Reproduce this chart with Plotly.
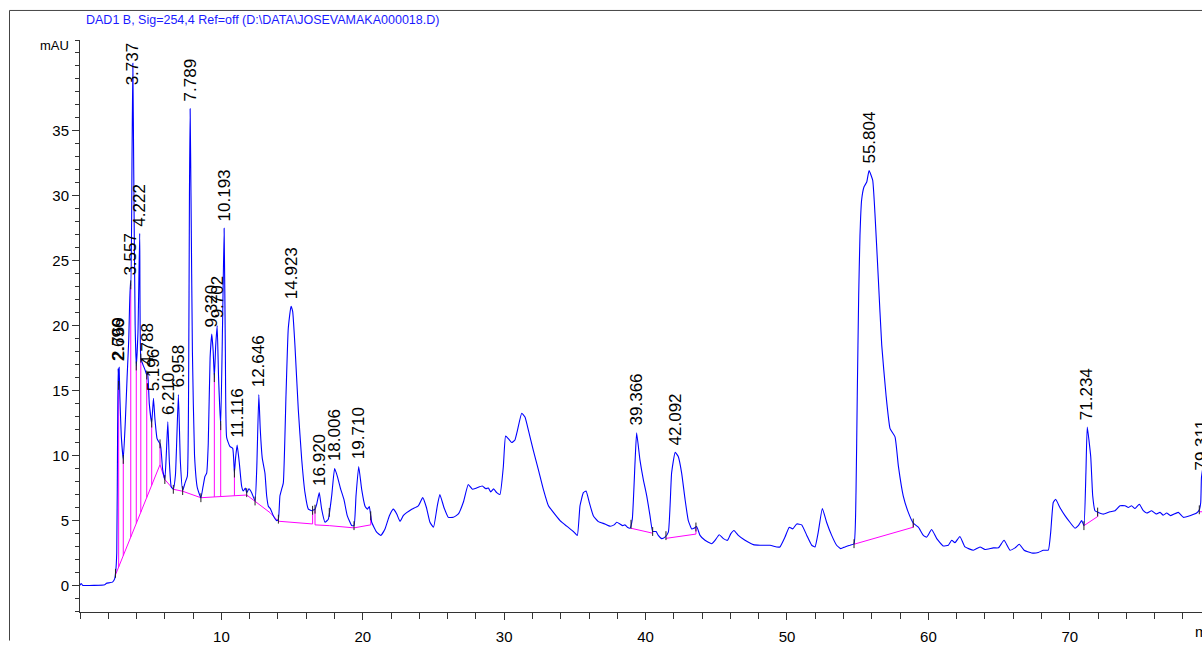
import numpy as np
import plotly.graph_objects as go

# ---------------- data (retention time in min, signal in mAU) ----------------
signal_points = [
    (0.0, 0.0), (0.08, 0.15), (0.2, 0.0), (1.0, 0.0), (1.75, 0.05), (1.85, 0.15), (2.3, 0.25),
    (2.45, 0.5), (2.52, 1.0), (2.6, 2.5), (2.66, 12.0), (2.696, 16.7), (2.735, 15.4), (2.769, 16.8),
    (2.82, 14.5), (2.92, 11.5), (3.06, 9.7), (3.2, 12.5), (3.33, 16.0), (3.45, 19.0), (3.557, 23.3),
    (3.6, 23.1), (3.68, 33.0), (3.737, 40.2), (3.8, 32.0), (3.9, 20.0), (3.98, 16.9), (4.1, 19.5),
    (4.222, 27.1), (4.3, 17.5), (4.45, 17.0), (4.6, 16.6), (4.72, 16.2), (4.788, 16.4), (4.9, 14.0),
    (5.07, 12.5), (5.196, 14.4), (5.3, 12.8), (5.45, 11.3), (5.6, 11.0), (5.66, 10.9), (5.72, 10.6),
    (5.85, 8.9), (6.0, 8.15), (6.1, 10.0), (6.21, 12.6), (6.32, 9.5), (6.45, 7.6), (6.6, 7.4),
    (6.75, 8.5), (6.958, 14.7), (7.1, 9.5), (7.26, 7.3), (7.43, 7.9), (7.59, 8.4), (7.68, 15.0),
    (7.74, 30.0), (7.789, 36.7), (7.85, 30.0), (7.95, 18.0), (8.1, 10.0), (8.3, 7.5), (8.55, 6.75),
    (8.7, 7.6), (8.84, 8.4), (8.96, 8.65), (9.07, 10.9), (9.2, 17.5), (9.32, 19.35), (9.42, 18.0),
    (9.5, 16.0), (9.6, 18.5), (9.702, 20.0), (9.8, 16.0), (9.95, 12.3), (10.08, 20.0), (10.193, 27.5),
    (10.28, 18.0), (10.37, 11.4), (10.6, 10.7), (10.8, 10.55), (10.92, 8.65), (11.0, 9.8),
    (11.116, 10.8), (11.27, 9.4), (11.43, 7.65), (11.55, 7.27), (11.69, 7.5), (11.79, 7.14),
    (11.95, 7.44), (12.14, 7.14), (12.38, 6.5), (12.5, 9.0), (12.646, 14.7), (12.75, 12.0),
    (12.89, 9.8), (13.08, 8.65), (13.2, 6.9), (13.32, 6.1), (13.48, 5.87), (13.67, 5.37),
    (13.91, 4.99), (14.03, 5.1), (14.14, 6.9), (14.26, 7.4), (14.38, 7.9), (14.57, 14.7),
    (14.73, 19.8), (14.923, 21.5), (15.04, 21.1), (15.2, 18.5), (15.44, 13.5), (15.68, 9.7),
    (15.91, 7.14), (16.15, 5.87), (16.39, 5.75), (16.62, 5.87), (16.75, 6.3), (16.92, 7.14),
    (17.09, 5.87), (17.33, 4.86), (17.56, 5.1), (17.8, 6.9), (18.006, 9.0), (18.2, 8.4),
    (18.44, 7.4), (18.67, 6.6), (18.9, 5.37), (19.22, 4.6), (19.38, 4.6), (19.52, 6.9),
    (19.71, 9.16), (19.92, 7.4), (20.16, 6.1), (20.32, 5.87), (20.46, 6.07), (20.63, 4.86),
    (20.98, 4.1), (21.27, 3.85), (21.57, 4.35), (21.88, 5.37), (22.16, 5.87), (22.4, 5.5),
    (22.63, 4.93), (22.86, 5.37), (23.1, 5.6), (23.46, 5.87), (23.93, 6.13), (24.24, 6.76),
    (24.5, 6.0), (24.75, 4.86), (25.0, 4.48), (25.27, 6.13), (25.45, 7.0), (25.74, 6.0),
    (26.05, 5.24), (26.4, 5.24), (26.76, 5.5), (27.11, 6.4), (27.46, 7.77), (27.75, 7.4),
    (28.05, 7.5), (28.45, 7.65), (28.7, 7.44), (28.88, 7.5), (29.05, 7.2), (29.25, 7.44),
    (29.47, 7.14), (29.7, 7.0), (29.94, 9.16), (30.1, 11.5), (30.29, 11.3), (30.53, 11.0),
    (30.76, 11.2), (30.93, 11.9), (31.24, 13.26), (31.47, 12.96), (31.71, 11.95), (32.06, 10.4),
    (32.42, 8.9), (32.77, 7.4), (33.13, 6.13), (33.48, 5.62), (33.95, 4.99), (34.42, 4.56),
    (34.89, 4.15), (35.17, 3.85), (35.36, 6.13), (35.6, 7.14), (35.79, 7.27), (36.02, 6.38),
    (36.3, 5.37), (36.66, 4.91), (37.13, 4.73), (37.48, 4.56), (37.77, 4.66), (37.96, 4.86),
    (38.19, 4.73), (38.38, 4.6), (38.54, 4.66), (38.71, 4.48), (38.9, 4.4), (39.06, 5.1),
    (39.25, 9.4), (39.366, 11.75), (39.6, 9.67), (39.84, 8.15), (40.08, 6.9), (40.31, 5.37),
    (40.5, 4.15), (40.74, 4.15), (40.9, 3.85), (41.14, 3.6), (41.37, 3.72), (41.61, 4.1),
    (41.84, 8.65), (42.092, 10.25), (42.31, 9.92), (42.55, 8.65), (42.79, 6.63), (43.02, 4.99),
    (43.26, 4.35), (43.42, 4.4), (43.61, 4.53), (43.85, 3.85), (44.2, 3.47), (44.67, 3.21),
    (44.91, 3.47), (45.21, 3.9), (45.5, 3.6), (45.79, 3.47), (46.02, 3.97), (46.25, 4.23),
    (46.56, 3.85), (47.03, 3.47), (47.62, 3.14), (48.09, 3.09), (48.8, 3.09), (49.27, 2.96),
    (49.5, 2.96), (49.86, 3.72), (50.16, 4.48), (50.4, 4.35), (50.69, 4.73), (51.04, 4.66),
    (51.4, 3.85), (51.75, 3.09), (51.98, 2.96), (52.21, 4.1), (52.5, 5.92), (52.8, 4.86),
    (53.16, 3.85), (53.51, 3.09), (53.8, 2.83), (54.1, 2.96), (54.45, 3.09), (54.74, 3.21),
    (54.88, 7.14), (54.97, 14.7), (55.07, 22.3), (55.16, 26.9), (55.28, 29.7), (55.45, 30.7),
    (55.64, 31.06), (55.804, 31.95), (56.06, 31.2), (56.22, 28.65), (56.46, 23.6), (56.7, 18.5),
    (57.0, 14.7), (57.29, 12.07), (57.64, 11.44), (57.88, 9.16), (58.22, 6.9), (58.58, 5.62),
    (58.93, 4.8), (59.29, 4.48), (59.64, 3.85), (59.88, 3.72), (60.23, 4.3), (60.59, 3.6),
    (61.05, 3.04), (61.41, 3.09), (61.65, 3.47), (61.88, 3.29), (62.23, 3.77), (62.59, 2.96),
    (63.18, 2.71), (63.65, 2.96), (64.0, 2.76), (64.59, 2.89), (64.95, 2.89), (65.35, 3.47),
    (65.77, 2.71), (66.13, 2.89), (66.43, 3.17), (66.77, 2.71), (67.3, 2.5), (67.77, 2.53),
    (68.13, 2.71), (68.48, 2.71), (68.65, 4.1), (68.83, 6.38), (69.0, 6.63), (69.3, 6.0),
    (69.66, 5.37), (70.01, 4.86), (70.37, 4.4), (70.6, 4.6), (70.84, 4.99), (71.0, 4.6),
    (71.14, 8.65), (71.234, 12.2), (71.48, 9.92), (71.62, 6.9), (71.78, 5.75), (72.02, 5.62),
    (72.37, 5.49), (72.84, 5.67), (73.2, 5.75), (73.55, 6.13), (73.91, 6.13), (74.14, 6.0),
    (74.37, 6.13), (74.61, 5.92), (74.92, 6.25), (75.2, 5.75), (75.44, 5.57), (75.79, 5.75),
    (76.1, 5.5), (76.38, 5.62), (76.61, 5.41), (76.85, 5.57), (77.13, 5.37), (77.67, 5.62),
    (78.03, 5.24), (78.5, 5.37), (78.97, 5.57), (79.16, 5.82), (79.26, 6.38), (79.311, 8.3),
    (79.4, 9.0),
]

# integration baselines (each sub-list one baseline polyline)
baseline_segments = [
    [(2.51, 0.81), (5.66, 9.3), (6.0, 8.15), (6.6, 7.4), (7.26, 7.25), (8.55, 6.75), (11.79, 6.96),
     (12.38, 6.45), (13.44, 5.6), (14.03, 4.94), (16.45, 4.73)],
    [(16.62, 4.66), (17.63, 4.6), (19.38, 4.43), (20.56, 4.66)],
    [(38.97, 4.4), (40.5, 4.02)],
    [(41.44, 3.62), (43.56, 3.95)],
    [(54.74, 3.17), (58.93, 4.48)],
    [(71.0, 4.6), (71.97, 5.3)],
    [(79.16, 5.67), (79.4, 5.67)],
]

# drop-line times (peak splits) and peak start/end marker times
drop_times = [2.735, 3.06, 3.59, 3.98, 4.3, 4.72, 5.07, 5.66, 9.5, 9.95, 10.92,
              16.45, 16.62, 20.56, 43.56, 58.93, 71.97]
event_times = [2.51, 6.0, 6.6, 7.26, 8.55, 11.79, 12.38, 14.03, 17.63, 19.38,
               38.97, 40.5, 41.44, 54.74, 71.0, 79.16]

# labelled peaks (retention times)
peak_labels = ["2.696", "2.769", "3.557", "3.737", "4.222", "4.788", "5.196", "6.210",
               "6.958", "7.789", "9.320", "9.702", "10.193", "11.116", "12.646", "14.923",
               "16.920", "18.006", "19.710", "39.366", "42.092", "55.804", "71.234", "79.311"]

y_ticks = [0, 5, 10, 15, 20, 25, 30, 35]
x_ticks = [10, 20, 30, 40, 50, 60, 70]

TITLE = r"DAD1 B, Sig=254,4 Ref=off (D:\DATA\JOSEVAMAKA000018.D)"

# ---------------- helpers ----------------
rt = np.array([p[0] for p in signal_points])
mau = np.array([p[1] for p in signal_points])

X_RANGE = [0, 79.35]
Y_RANGE = [-2.05, 42.0]
W, H = 1202, 645
ML, MR, MT, MB = 80, 0, 40, 24
plot_h = H - MT - MB
px_per_unit = plot_h / (Y_RANGE[1] - Y_RANGE[0])


def curve_at(t):
    return float(np.interp(t, rt, mau))


def baseline_at(t):
    for seg in baseline_segments:
        ts = [p[0] for p in seg]
        if ts[0] - 1e-9 <= t <= ts[-1] + 1e-9:
            return float(np.interp(t, ts, [p[1] for p in seg]))
    return None


fig = go.Figure()

# baselines
bx, by = [], []
for seg in baseline_segments:
    bx += [p[0] for p in seg] + [None]
    by += [p[1] for p in seg] + [None]
# drop lines
for t in drop_times:
    b = baseline_at(t)
    if b is not None:
        bx += [t, t, None]
        by += [b, curve_at(t), None]
fig.add_trace(go.Scatter(x=bx, y=by, mode="lines", line=dict(color="#ff00ff", width=1),
                         hoverinfo="skip", showlegend=False))

# signal
fig.add_trace(go.Scatter(x=rt, y=mau, mode="lines",
                         line=dict(color="#0000ff", width=1.1, shape="spline", smoothing=0.4),
                         hoverinfo="skip", showlegend=False))

# small black event marks
tx, ty = [], []
half = 4.5 / px_per_unit
for t in drop_times + event_times:
    v = curve_at(t)
    tx += [t, t, None]
    ty += [v - half, v + half, None]
fig.add_trace(go.Scatter(x=tx, y=ty, mode="lines", line=dict(color="#202020", width=1),
                         hoverinfo="skip", showlegend=False))

# peak labels
LABEL_FONT = 17
for lab in peak_labels:
    t = float(lab)
    v = curve_at(t)
    n_dig = sum(c.isdigit() for c in lab)
    length_px = LABEL_FONT * (0.556 * n_dig + 0.278) + 4
    gap = 7
    top_val = v + (gap + length_px) / px_per_unit
    if top_val > Y_RANGE[1]:
        fig.add_annotation(x=t, y=Y_RANGE[1], xref="x", yref="y", text=lab, textangle=-90,
                           showarrow=False, yanchor="top", xanchor="center",
                           font=dict(family="Liberation Sans, Arial, sans-serif",
                                     size=LABEL_FONT, color="black"))
    else:
        fig.add_annotation(x=t, y=v, xref="x", yref="y", text=lab, textangle=-90,
                           showarrow=False, yanchor="bottom", xanchor="center", yshift=gap - 2,
                           font=dict(family="Liberation Sans, Arial, sans-serif",
                                     size=LABEL_FONT, color="black"))


def px2paper_x(px):
    return (px - ML) / (W - ML - MR)


def py2paper_y(py):
    return (H - MB - py) / plot_h


# title
fig.add_annotation(x=px2paper_x(84), y=py2paper_y(20), xref="paper", yref="paper", text=TITLE,
                   showarrow=False, xanchor="left", yanchor="middle",
                   font=dict(family="Liberation Sans, Arial", size=12.5, color="#1a1aff"))
# unit label
fig.add_annotation(x=px2paper_x(71), y=py2paper_y(46), xref="paper", yref="paper", text="mAU",
                   showarrow=False, xanchor="right", yanchor="middle",
                   font=dict(family="Liberation Sans, Arial", size=13, color="black"))
fig.add_annotation(x=px2paper_x(1193), y=py2paper_y(641), xref="paper", yref="paper", text="min",
                   showarrow=False, xanchor="left", yanchor="middle",
                   font=dict(family="Liberation Sans, Arial", size=15, color="black"))

# outer frame
fig.add_shape(type="line", xref="paper", yref="paper", x0=px2paper_x(9.5), x1=px2paper_x(9.5),
              y0=py2paper_y(10), y1=py2paper_y(650), line=dict(color="#444", width=1))
fig.add_shape(type="line", xref="paper", yref="paper", x0=px2paper_x(9.5), x1=px2paper_x(1210),
              y0=py2paper_y(10), y1=py2paper_y(10), line=dict(color="#444", width=1))

axis_font = dict(family="Liberation Sans, Arial, sans-serif", size=15, color="black")
fig.update_layout(
    width=W, height=H,
    margin=dict(l=ML, r=MR, t=MT, b=MB, pad=0),
    paper_bgcolor="white", plot_bgcolor="white",
    showlegend=False, hovermode=False,
    xaxis=dict(range=X_RANGE, showgrid=False, zeroline=False, showline=True, linecolor="#333",
               linewidth=1, ticks="outside", ticklen=7, tickcolor="#333", tickwidth=1,
               tickvals=x_ticks, ticktext=[str(v) for v in x_ticks], tickfont=axis_font,
               ticklabelstandoff=4,
               minor=dict(ticks="outside", ticklen=6, dtick=2, tick0=0, tickcolor="#333",
                          showgrid=False)),
    yaxis=dict(range=Y_RANGE, showgrid=False, zeroline=False, showline=True, linecolor="#333",
               linewidth=1, ticks="outside", ticklen=7, tickcolor="#333", tickwidth=1,
               tickvals=y_ticks, ticktext=[str(v) for v in y_ticks], tickfont=axis_font,
               minor=dict(ticks="outside", ticklen=4, dtick=1, tick0=0, tickcolor="#333",
                          showgrid=False)),
)

fig.write_html("out.html", config={"displayModeBar": False})
